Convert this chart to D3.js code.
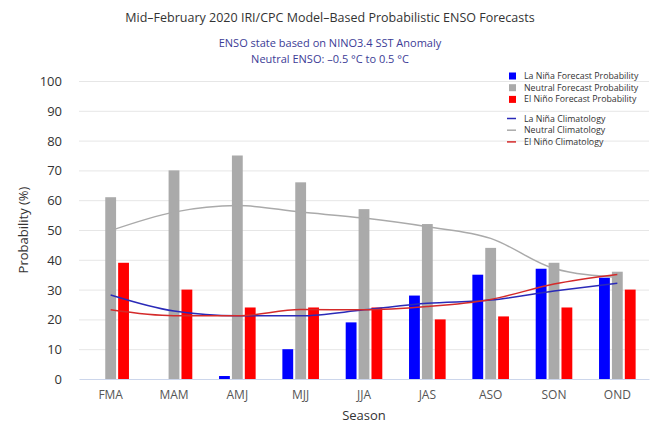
<!DOCTYPE html>
<html><head><meta charset="utf-8">
<script src="https://cdn.jsdelivr.net/npm/d3@7"></script>
<style>body{margin:0;background:#fff}svg{display:block}</style>
</head><body><svg id="c" width="660" height="440"></svg>
<script>
const seasons = ["FMA","MAM","AMJ","MJJ","JJA","JAS","ASO","SON","OND"];
const laNina  = [0, 0, 1, 10, 19, 28, 35, 37, 34];
const neutral = [61, 70, 75, 66, 57, 52, 44, 39, 36];
const elNino  = [39, 30, 24, 24, 24, 20, 21, 24, 30];
const laNinaClim  = [28.2, 22.8, 21.2, 21.2, 23.2, 25.4, 26.5, 29.5, 32.1];
const neutralClim = [49.8, 56, 58.2, 56, 54, 51.1, 47.2, 37.1, 34.1];
const elNinoClim  = [23.2, 21.2, 21.2, 23.3, 23.2, 24.3, 26.7, 31.9, 35.1];
const yTicks = [0,10,20,30,40,50,60,70,80,90,100];
const seriesNames = ["La Niña Forecast Probability","Neutral Forecast Probability","El Niño Forecast Probability"];
const climNames = ["La Niña Climatology","Neutral Climatology","El Niño Climatology"];

const barColors = ["#0000ff","#aaaaaa","#ff0000"];
const lineColors = ["#2a2ab8","#aaaaaa","#d42a2a"];
const font = "'Open Sans', sans-serif";

const svg = d3.select("#c");
const L = 79, R = 649, T = 81, B = 379;
const x = d3.scaleBand().domain(seasons).range([L, R]).padding(0);
const y = d3.scaleLinear().domain([0,100]).range([B, T]);
const x1 = d3.scaleBand().domain([0,1,2]).range([-18.3, 18.3]).paddingInner(0.16);

// gridlines
svg.append("g").selectAll("line").data(yTicks.filter(d=>d>0)).join("line")
  .attr("x1", L).attr("x2", R).attr("y1", d=>y(d)+0.5).attr("y2", d=>y(d)+0.5)
  .attr("stroke","#e6e6e6").attr("stroke-width",1);

// y axis labels
const yAxis = d3.axisLeft(y).tickValues(yTicks).tickSize(0).tickPadding(0);
const gy = svg.append("g").attr("transform",`translate(62,0)`).call(yAxis);
gy.select(".domain").remove();
gy.selectAll("text").attr("font-family",font).attr("font-size",13).attr("fill","#333").attr("dy","0.35em");

// x axis
const xAxis = d3.axisBottom(x).tickSize(0).tickPadding(11);
const gx = svg.append("g").attr("transform",`translate(0,${B})`).call(xAxis);
gx.select(".domain").attr("stroke","#ccd6eb");
gx.selectAll("text").attr("font-family",font).attr("font-size",12).attr("fill","#555");

// bars
const allSeries = [laNina, neutral, elNino];
allSeries.forEach((vals, si) => {
  svg.append("g").selectAll("rect").data(vals.map((v,i)=>({s:seasons[i], v}))).join("rect")
    .attr("x", d => x(d.s) + x.bandwidth()/2 + x1(si))
    .attr("width", x1.bandwidth())
    .attr("y", d => y(d.v))
    .attr("height", d => B - y(d.v))
    .attr("fill", barColors[si]);
});

// climatology lines
const line = d3.line().x((d,i)=>x(seasons[i]) + x.bandwidth()/2).y(d=>y(d)).curve(d3.curveMonotoneX);
[laNinaClim, neutralClim, elNinoClim].forEach((vals, si) => {
  svg.append("path").attr("d", line(vals)).attr("fill","none")
    .attr("stroke", lineColors[si]).attr("stroke-width",1.5);
});

// titles
svg.append("text").attr("x",330).attr("y",22).attr("text-anchor","middle")
  .attr("font-family",font).attr("font-size",12.5).attr("fill","#333")
  .text("Mid–February 2020 IRI/CPC Model–Based Probabilistic ENSO Forecasts");
svg.append("text").attr("x",330).attr("y",47).attr("text-anchor","middle")
  .attr("font-family",font).attr("font-size",11).attr("fill","#3c3c96")
  .text("ENSO state based on NINO3.4 SST Anomaly");
svg.append("text").attr("x",330).attr("y",63).attr("text-anchor","middle")
  .attr("font-family",font).attr("font-size",11).attr("fill","#3c3c96")
  .text("Neutral ENSO: –0.5 °C to 0.5 °C");

// axis titles
svg.append("text").attr("transform","translate(28,230) rotate(-90)").attr("text-anchor","middle")
  .attr("font-family",font).attr("font-size",13).attr("fill","#333").text("Probability (%)");
svg.append("text").attr("x",364).attr("y",420).attr("text-anchor","middle")
  .attr("font-family",font).attr("font-size",13).attr("fill","#333").text("Season");

// legend
const lg = svg.append("g");
seriesNames.forEach((n,i) => {
  const cy = 76 + i*11.7;
  lg.append("rect").attr("x",509).attr("y",cy-3.5).attr("width",7).attr("height",7).attr("fill",barColors[i]);
  lg.append("text").attr("x",524).attr("y",cy).attr("dy","0.35em").attr("font-family",font)
    .attr("font-size",8.8).attr("fill","#333").text(n);
});
climNames.forEach((n,i) => {
  const cy = 118.5 + i*11.7;
  lg.append("line").attr("x1",507).attr("x2",516).attr("y1",cy).attr("y2",cy)
    .attr("stroke",lineColors[i]).attr("stroke-width",1.5);
  lg.append("text").attr("x",524).attr("y",cy).attr("dy","0.35em").attr("font-family",font)
    .attr("font-size",8.8).attr("fill","#333").text(n);
});
</script></body></html>
